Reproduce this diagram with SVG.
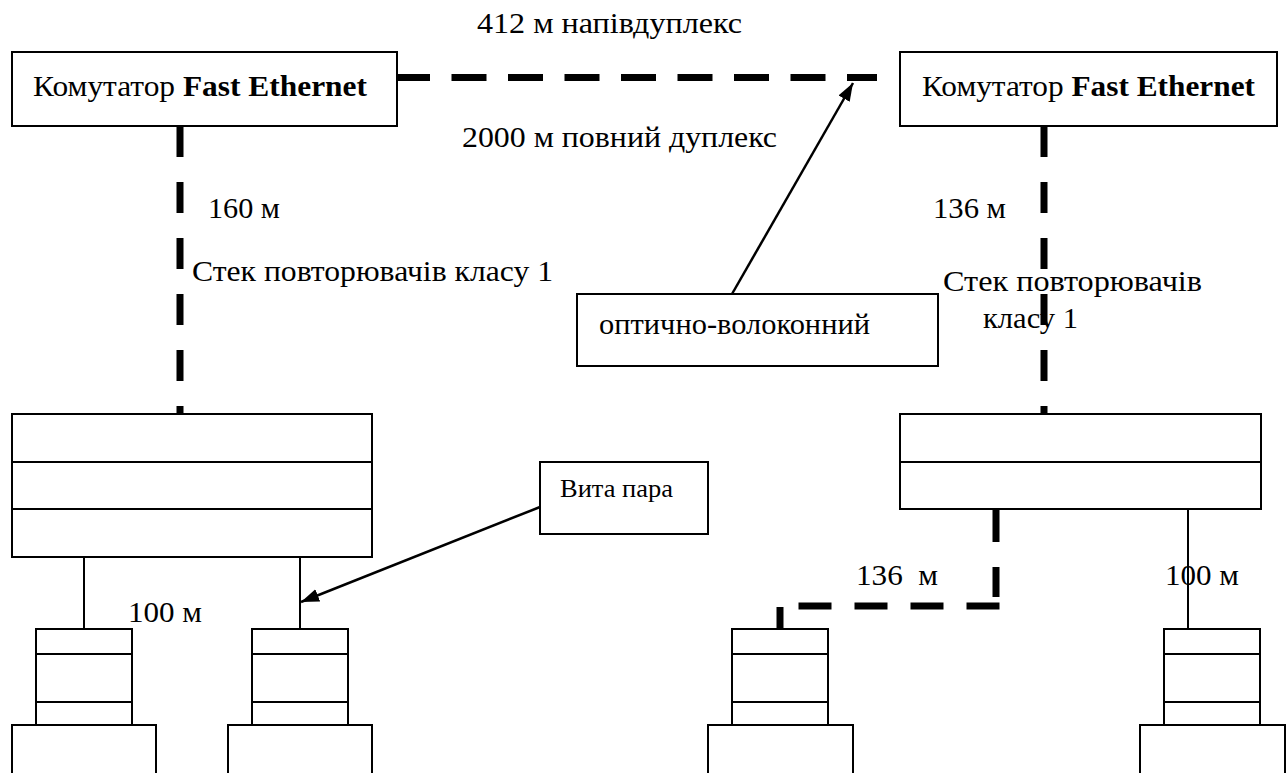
<svg xmlns="http://www.w3.org/2000/svg" width="1287" height="773" viewBox="0 0 1287 773">
  <style>
    .box { fill: #fff; stroke: #000; stroke-width: 2; }
    .sep { stroke: #000; stroke-width: 2; fill: none; }
    .wire { stroke: #000; stroke-width: 2; fill: none; }
    .fiber { stroke: #000; stroke-width: 7; fill: none; }
    .ptr { stroke: #000; stroke-width: 2.5; fill: none; marker-end: url(#head); }
    text { font-family: "Liberation Serif", "DejaVu Serif", "Times New Roman", serif; font-size: 29px; fill: #000; white-space: pre; }
    .b { font-weight: bold; }
    .sm { font-size: 26px; }
  </style>
  <defs>
    <marker id="head" markerUnits="userSpaceOnUse" markerWidth="20" markerHeight="14" refX="18" refY="6.5" orient="auto">
      <path d="M0 0 L18 6.5 L0 13 Z" fill="#000"/>
    </marker>
  </defs>

  <!-- connectors -->
  <g id="connectors">
    <!-- switch to switch, 412 m -->
    <path class="fiber" d="M395 77.5 H877" stroke-dasharray="35 21.5"/>
    <!-- left switch to left repeater stack -->
    <path class="fiber" d="M180 126 V414" stroke-dasharray="31 25"/>
    <!-- right switch to right repeater stack -->
    <path class="fiber" d="M1044 126 V414" stroke-dasharray="31 25"/>
    <!-- right stack to third station, 136 m -->
    <path class="fiber" d="M996 509 V597" stroke-dasharray="33 25"/>
    <path class="fiber" d="M999.5 606 H797" stroke-dasharray="33 23"/>
    <path class="fiber" d="M780 607 V629"/>
    <!-- twisted pair drops -->
    <path class="wire" d="M84 557 V629"/>
    <path class="wire" d="M300 557 V629"/>
    <path class="wire" d="M1188 509 V629"/>
    <!-- callout pointers -->
    <path class="ptr" d="M732 294 L853 83"/>
    <path class="ptr" d="M540 507 L301 602"/>
  </g>

  <!-- Fast Ethernet switches -->
  <g id="switch-left">
    <rect class="box" x="12" y="52" width="385" height="74"/>
    <text x="33" y="96" textLength="334" lengthAdjust="spacingAndGlyphs">Комутатор <tspan class="b">Fast Ethernet</tspan></text>
  </g>
  <g id="switch-right">
    <rect class="box" x="900" y="52" width="377" height="74"/>
    <text x="922" y="96" textLength="333" lengthAdjust="spacingAndGlyphs">Комутатор <tspan class="b">Fast Ethernet</tspan></text>
  </g>

  <!-- repeater stacks -->
  <g id="stack-left">
    <rect class="box" x="12" y="414" width="360" height="143"/>
    <path class="sep" d="M12 462 H372 M12 509 H372"/>
  </g>
  <g id="stack-right">
    <rect class="box" x="900" y="414" width="361" height="95"/>
    <path class="sep" d="M900 462 H1261"/>
  </g>

  <!-- stations: adapter block on top of a computer base -->
  <g id="station-1">
    <rect class="box" x="12" y="725" width="144" height="60"/>
    <rect class="box" x="36" y="629" width="96" height="96"/>
    <path class="sep" d="M36 654 H132 M36 702 H132"/>
  </g>
  <g id="station-2">
    <rect class="box" x="228" y="725" width="144" height="60"/>
    <rect class="box" x="252" y="629" width="96" height="96"/>
    <path class="sep" d="M252 654 H348 M252 702 H348"/>
  </g>
  <g id="station-3">
    <rect class="box" x="708" y="725" width="145" height="60"/>
    <rect class="box" x="732" y="629" width="96" height="96"/>
    <path class="sep" d="M732 654 H828 M732 702 H828"/>
  </g>
  <g id="station-4">
    <rect class="box" x="1140" y="725" width="145" height="60"/>
    <rect class="box" x="1164" y="629" width="96" height="96"/>
    <path class="sep" d="M1164 654 H1260 M1164 702 H1260"/>
  </g>

  <!-- callout boxes -->
  <g id="callout-fiber">
    <rect class="box" x="577" y="294" width="361" height="72"/>
    <text x="599" y="334" textLength="271" lengthAdjust="spacingAndGlyphs">оптично-волоконний</text>
  </g>
  <g id="callout-tp">
    <rect class="box" x="540" y="462" width="168" height="72"/>
    <text class="sm" x="560" y="497" textLength="113" lengthAdjust="spacingAndGlyphs">Вита пара</text>
  </g>

  <!-- link labels -->
  <g id="labels">
    <text x="477" y="33" textLength="265" lengthAdjust="spacingAndGlyphs">412 м напівдуплекс</text>
    <text x="462" y="147" textLength="315" lengthAdjust="spacingAndGlyphs">2000 м повний дуплекс</text>
    <text x="208" y="218" textLength="72" lengthAdjust="spacingAndGlyphs">160 м</text>
    <text x="192" y="281" textLength="361" lengthAdjust="spacingAndGlyphs">Стек повторювачів класу 1</text>
    <text x="933" y="218" textLength="73" lengthAdjust="spacingAndGlyphs">136 м</text>
    <text x="943" y="291" textLength="259" lengthAdjust="spacingAndGlyphs">Стек повторювачів</text>
    <text x="983" y="328" textLength="95" lengthAdjust="spacingAndGlyphs">класу 1</text>
    <text x="128" y="622" textLength="74" lengthAdjust="spacingAndGlyphs">100 м</text>
    <text x="856" y="585" textLength="82" lengthAdjust="spacingAndGlyphs">136  м</text>
    <text x="1165" y="585" textLength="74" lengthAdjust="spacingAndGlyphs">100 м</text>
  </g>
</svg>
